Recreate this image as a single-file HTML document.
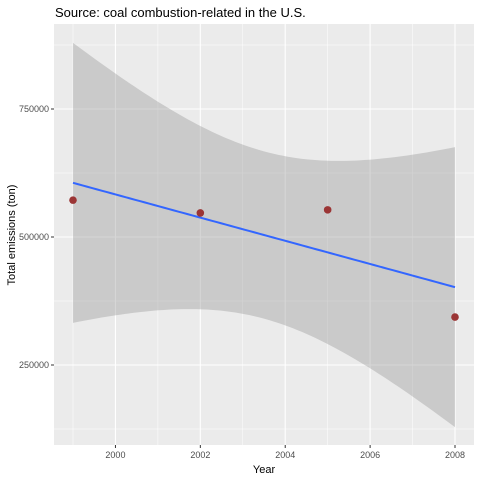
<!DOCTYPE html>
<html><head><meta charset="utf-8"><style>
body{margin:0;background:#fff;}
svg text{font-family:"Liberation Sans",sans-serif;}
</style></head><body>
<svg id="chart" width="480" height="480" xmlns="http://www.w3.org/2000/svg">
<rect width="480" height="480" fill="#fff"/>
<rect x="54" y="24" width="420" height="421" fill="#EBEBEB"/>
<g id="grid"></g>
<g id="band"></g>
<g id="fit"></g>
<g id="pts"></g>
<g id="axes"></g>
<text x="55" y="17" font-size="13" fill="#000">Source: coal combustion-related in the U.S.</text>
<text x="264" y="473" font-size="11" text-anchor="middle" fill="#000">Year</text>
<text transform="translate(15,235) rotate(-90)" font-size="11" text-anchor="middle" fill="#000">Total emissions (ton)</text>
</svg>
<script>
const years = [1999, 2002, 2005, 2008];
const emissions = [572000, 547000, 553000, 343600];
const xTicks = [2000, 2002, 2004, 2006, 2008];
const xMinor = [1999, 2001, 2003, 2005, 2007];
const yTicks = [250000, 500000, 750000];
const yMinor = [125000, 375000, 625000, 875000];
const NS = "http://www.w3.org/2000/svg";
const L = 54, R = 474, T = 24, B = 445;
function xs(v){ return 73 + (v - 1999) * (455 - 73) / 9; }
function ys(v){ return 237 - (v - 500000) * 128 / 250000; }
function mk(tag, attrs, parent){ const e = document.createElementNS(NS, tag); for (const k in attrs) e.setAttribute(k, attrs[k]); document.getElementById(parent).appendChild(e); return e; }
// grid
xMinor.forEach(v => { const e = mk('line', {x1: xs(v), x2: xs(v), y1: T, y2: B, stroke: '#fff', 'stroke-width': 0.5}, 'grid');
  
   });
yMinor.forEach(v => { const e = mk('line', {x1: L, x2: R, y1: ys(v), y2: ys(v), stroke: '#fff', 'stroke-width': 0.5}, 'grid');
  
   });
xTicks.forEach(v => { const e = mk('line', {x1: xs(v), x2: xs(v), y1: T, y2: B, stroke: '#fff', 'stroke-width': 1.1}, 'grid');
  
  
  const t = mk('line', {x1: xs(v), x2: xs(v), y1: B, y2: B + 3, stroke: '#333', 'stroke-width': 1}, 'axes');
  
  
  const l = mk('text', {x: xs(v), y: B + 13, 'font-size': 9, 'text-anchor': 'middle', fill: '#4D4D4D'}, 'axes');
  l.textContent = v;
  
   });
yTicks.forEach(v => { const e = mk('line', {x1: L, x2: R, y1: ys(v), y2: ys(v), stroke: '#fff', 'stroke-width': 1.1}, 'grid');
  
  
  const t = mk('line', {x1: L - 3, x2: L, y1: ys(v), y2: ys(v), stroke: '#333', 'stroke-width': 1}, 'axes');
  
  
  const l = mk('text', {x: L - 5, y: ys(v) + 3, 'font-size': 9, 'text-anchor': 'end', fill: '#4D4D4D'}, 'axes');
  l.textContent = v;
  
   });
// linear fit with 95% CI (as ggplot geom_smooth(method="lm"))
const n = years.length;
const xbar = years.reduce((a, b) => a + b, 0) / n, ybar = emissions.reduce((a, b) => a + b, 0) / n;
let sxx = 0, sxy = 0;
years.forEach((x, i) => { sxx += (x - xbar) ** 2; sxy += (x - xbar) * (emissions[i] - ybar); });
const slope = sxy / sxx, icpt = ybar - slope * xbar;
let sse = 0; years.forEach((x, i) => { sse += (emissions[i] - (icpt + slope * x)) ** 2; });
const s = Math.sqrt(sse / (n - 2));
const tq = {1: 12.706, 2: 4.303, 3: 3.182, 4: 2.776, 5: 2.571}[n - 2] || 2.0;
const x0 = Math.min(...years), x1 = Math.max(...years);
const up = [], lo = [], mid = [];
for (let k = 0; k <= 80; k++) { const x = x0 + (x1 - x0) * k / 80; const f = icpt + slope * x;
  const se = s * Math.sqrt(1 / n + (x - xbar) ** 2 / sxx);
  up.push([xs(x), ys(f + tq * se)]); lo.push([xs(x), ys(f - tq * se)]); mid.push([xs(x), ys(f)]); }
const band = mk('path', {d: 'M' + up.map(p => p.join(',')).join('L') + 'L' + lo.reverse().map(p => p.join(',')).join('L') + 'Z', fill: '#999', 'fill-opacity': 0.4}, 'band');


const fl = mk('path', {d: 'M' + mid.map(p => p.join(',')).join('L'), fill: 'none', stroke: '#3366FF', 'stroke-width': 2}, 'fit');


years.forEach((x, i) => { const c = mk('circle', {cx: xs(x), cy: ys(emissions[i]), r: 3.8, fill: '#9B3535'}, 'pts');
  
   });
</script>
</body></html>
